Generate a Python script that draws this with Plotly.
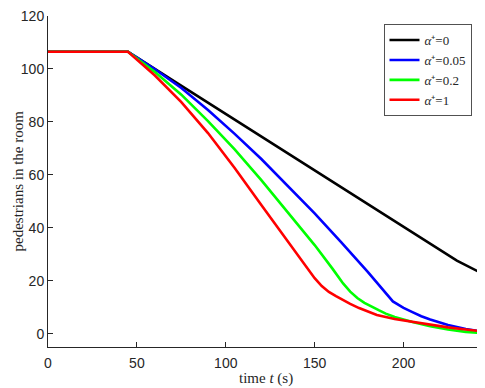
import plotly.graph_objects as go

# time samples (s) and number of pedestrians for each alpha+
t_black = [0, 45, 70, 100, 130, 150, 175, 205, 230, 244.7]
n_black = [106.5, 106.5, 95.8, 83.0, 70.2, 61.7, 50.8, 38.2, 27.6, 22.6]

t_blue = [0, 45, 60, 75, 90, 105, 120, 135, 150, 165, 180, 194, 200, 205, 210, 215, 225, 235, 244.7]
n_blue = [106.5, 106.5, 100.0, 92.8, 84.5, 75.5, 66.0, 55.8, 45.5, 34.5, 23.3, 12.2, 9.8, 8.2, 6.6, 5.4, 3.3, 1.8, 0.8]

t_green = [0, 45, 60, 75, 90, 105, 120, 135, 150, 160, 166, 170, 174, 178, 182, 186, 190, 195, 205, 215, 225, 235, 244.7]
n_green = [106.5, 106.5, 98.9, 90.3, 80.3, 69.6, 58.0, 45.6, 33.5, 24.6, 19.0, 15.9, 13.5, 11.7, 10.2, 8.9, 7.6, 6.3, 4.4, 2.8, 1.6, 0.7, 0.2]

t_red = [0, 45, 60, 75, 90, 105, 120, 135, 150, 154, 158, 162, 166, 170, 175, 180, 185, 195, 205, 215, 225, 235, 244.7]
n_red = [106.5, 106.5, 97.6, 87.5, 75.8, 62.6, 48.6, 34.6, 21.0, 18.0, 15.8, 14.2, 12.7, 11.3, 9.7, 8.3, 7.1, 5.6, 4.5, 3.4, 2.4, 1.6, 0.9]

labels = ["<i>α</i>⁺=0", "<i>α</i>⁺=0.05", "<i>α</i>⁺=0.2", "<i>α</i>⁺=1"]
colors = ["#000000", "#0000ff", "#00ff00", "#ff0000"]

x_ticks = [0, 50, 100, 150, 200]
y_ticks = [0, 20, 40, 60, 80, 100, 120]

fig = go.Figure()
for t, n, lab, c in zip([t_black, t_blue, t_green, t_red],
                        [n_black, n_blue, n_green, n_red], labels, colors):
    fig.add_trace(go.Scatter(x=t, y=n, mode="lines", name=lab,
                             line=dict(color=c, width=2.6)))

axis_col = "#262626"
title_font = dict(family="Liberation Serif", size=15, color=axis_col)
# page body adds an 8px margin, so the figure is a bit smaller than the window
fig.update_layout(
    width=477, height=380,
    margin=dict(l=40, r=2, t=8, b=41),
    paper_bgcolor="white", plot_bgcolor="white",
    font=dict(family="Liberation Sans", size=14, color=axis_col),
    showlegend=True,
    legend=dict(x=0.974, y=0.975, xanchor="right", yanchor="top",
                bordercolor=axis_col, borderwidth=0.8, bgcolor="white",
                font=dict(family="Liberation Serif", size=13, color=axis_col),
                tracegroupgap=0, itemwidth=30),
    xaxis=dict(range=[0, 244.7], tickvals=x_ticks, ticks="inside", ticklen=5,
               tickcolor=axis_col, showline=True, linecolor=axis_col, linewidth=1,
               showgrid=False, zeroline=False, automargin=False,
               ticklabeloverflow="allow", ticklabelstandoff=3),
    yaxis=dict(range=[-5, 120], tickvals=y_ticks, ticks="inside", ticklen=5,
               tickcolor=axis_col, showline=True, linecolor=axis_col, linewidth=1,
               showgrid=False, zeroline=False, automargin=False,
               ticklabeloverflow="allow"),
)

# axis titles
fig.add_annotation(text="time <i>t</i> (s)", xref="paper", yref="paper", x=0.5, y=0,
                   yshift=-31, yanchor="middle", showarrow=False, font=title_font)
fig.add_annotation(text="pedestrians in the room", xref="paper", yref="paper", x=0, y=0.5,
                   xshift=-31, xanchor="center", yanchor="middle", textangle=-90,
                   showarrow=False, font=title_font)

fig.write_html("out.html")
